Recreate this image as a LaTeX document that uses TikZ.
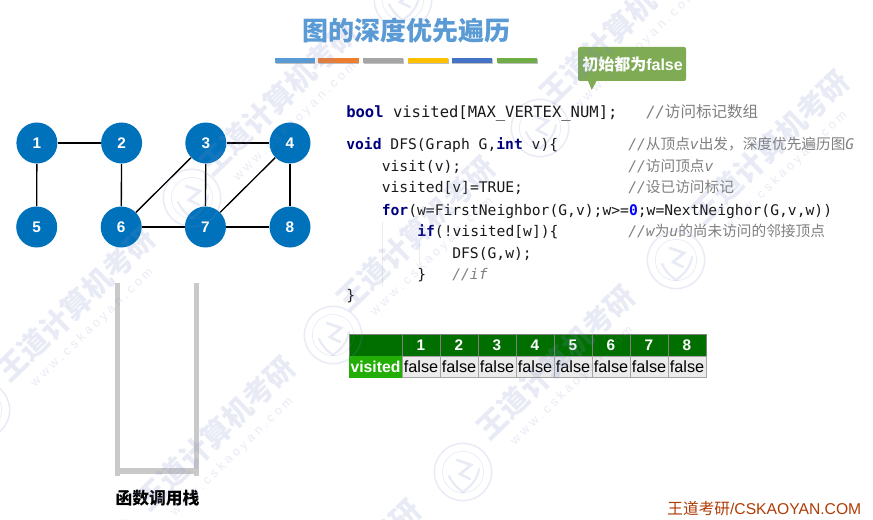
\documentclass[tikz,border=0pt]{standalone}
\usepackage{fontspec}
\setmainfont{Liberation Sans}
\setmonofont{DejaVu Sans Mono}
\newfontfamily\cjk{Noto Sans CJK SC}
\definecolor{vblue}{HTML}{0072BC}
\definecolor{hdgreen}{HTML}{006F00}
\definecolor{vgreen}{HTML}{22AE05}
\definecolor{bubgreen}{HTML}{7FAB55}
\definecolor{kwc}{HTML}{00007F}
\definecolor{cmt}{HTML}{808080}
\definecolor{wm}{HTML}{7C8DC4}
\definecolor{ttl}{HTML}{5B9BD5}
\definecolor{bar1}{HTML}{5B9BD5}
\definecolor{bar2}{HTML}{ED7D31}
\definecolor{bar3}{HTML}{A5A5A5}
\definecolor{bar4}{HTML}{FFC000}
\definecolor{bar5}{HTML}{4472C4}
\definecolor{bar6}{HTML}{70AD47}
\definecolor{foot}{HTML}{B03C06}
\newcommand{\fs}[1]{\fontsize{#1}{#1}\selectfont}
\newcommand{\kwd}[1]{{\bfseries\color{kwc}#1}}
\newcommand{\cjc}[1]{{\cjk #1}}
\tikzset{
  vertex/.style={circle,fill=vblue,minimum size=30.75pt,inner sep=0pt,text=white,font=\bfseries\fs{11.5}},
  edgeline/.style={draw=black,line width=1pt},
  code/.style={anchor=base west,inner sep=0pt,font=\ttfamily\fs{11},text=black!90},
  codeb/.style={code,font=\ttfamily\fs{11.65}},
  comment/.style={anchor=base west,inner sep=0pt,font=\ttfamily\itshape\fs{11},text=cmt},
  guide/.style={draw=black!8,line width=.5pt},
  hd/.style={minimum width=28.5pt,minimum height=16.5pt,inner sep=0pt,fill=hdgreen,draw=black!50,line width=.6pt,text=white,font=\bfseries\fs{11.5}},
  cell/.style={minimum width=28.5pt,minimum height=15.75pt,inner sep=0pt,fill=black!8,draw=black!35,line width=.6pt,text=black,font=\fs{12.2}},
  wmtext/.style={rotate=44,text=wm,text opacity=.17,inner sep=0pt,font=\cjk\bfseries\fs{22}},
  wmurl/.style={rotate=44,text=wm,text opacity=.17,inner sep=0pt,font=\fs{9.5}},
  wmseal/.style={draw=wm,draw opacity=.17,fill=none}
}
\newcommand{\sealmark}[2]{%
  \draw[wmseal,line width=1.1pt] (#1,#2) circle[radius=21.5pt];
  \draw[wmseal,line width=.5pt] (#1,#2) circle[radius=15.5pt];
  \draw[wmseal,line width=1.6pt,line cap=round] (#1-14,#2+4) .. controls (#1-8,#2+16) and (#1-2,#2+18) .. (#1,#2+20) .. controls (#1+8,#2+14) and (#1+14,#2+8) .. (#1+16,#2-3);
  \draw[wmseal,line width=2pt,line cap=round] (#1-6,#2-12) -- (#1+8,#2-7) -- (#1-3,#2+2) -- (#1+7,#2+7);
}
\newcommand{\wmark}[2]{%
  \node[wmtext] at (#1,#2) {王道计算机考研};
  \node[wmurl] at (#1+16,#2+24) {w\ w\ w\ .\ c\ s\ k\ a\ o\ y\ a\ n\ .\ c\ o\ m};
}
\begin{document}
\begin{tikzpicture}[x=0.75pt,y=-0.75pt]
\useasboundingbox (0,0) rectangle (873,520);
\fill[white] (0,0) rectangle (873,520);

% title and colour bars
\node[text=ttl,font=\cjk\bfseries\fs{19.5},inner sep=0pt] (title) at (406.5,31) {图的深度优先遍历};
\foreach \a/\b/\c in {275/314.5/bar1,318/358.5/bar2,363/403/bar3,407.5/448/bar4,451.5/492/bar5,497/537/bar6}{
  \fill[black!25] (\a+.5,59.5) rectangle (\b+.5,64.5);
  \fill[\c] (\a,58) rectangle (\b,63);
}

% graph
\node[vertex] (n1) at (36.9,143) {1};
\node[vertex] (n2) at (121.6,143) {2};
\node[vertex] (n3) at (205.8,143) {3};
\node[vertex] (n4) at (290,143) {4};
\node[vertex] (n5) at (36.7,227) {5};
\node[vertex] (n6) at (121.2,227) {6};
\node[vertex] (n7) at (205.4,227) {7};
\node[vertex] (n8) at (290,227) {8};
\draw[edgeline] (n1) -- (n2);
\draw[edgeline] (n1) -- (n5);
\draw[edgeline] (n2) -- (n6);
\draw[edgeline] (n3) -- (n4);
\draw[edgeline] (n3) -- (n6);
\draw[edgeline] (n3) -- (n7);
\draw[edgeline] (n4) -- (n7);
\draw[edgeline] (n4) -- (n8);
\draw[edgeline] (n6) -- (n7);
\draw[edgeline] (n7) -- (n8);

% stack
\fill[black!21] (115,283) rectangle (120.3,476);
\fill[black!21] (194,283) rectangle (199.3,476);
\fill[black!21] (120.3,467.5) rectangle (194,473.5);
\node[font=\cjk\bfseries\fs{12.6},text=black,inner sep=0pt] (stacklabel) at (157.5,498) {函数调用栈};

% bubble
\fill[bubgreen,rounded corners=1.5pt] (578,47) rectangle (686,81);
\fill[bubgreen] (587.7,80) -- (597,80) -- (591.7,90) -- cycle;
\node[font=\bfseries\fs{12},text=white,inner sep=0pt] (bubble) at (632.5,64.5) {\cjc{初始都为}false};

% code
\draw[guide] (382,222) -- (382,286);
\draw[guide] (419,243) -- (419,265);
\node[codeb] (l1) at (346,118) {\kwd{bool} visited[MAX\_VERTEX\_NUM];};
\node[comment,font=\ttfamily\itshape\fs{11.65}] (c1) at (646,118) {//\cjc{\upshape 访问标记数组}};
\node[code] (l2) at (346,150) {\kwd{void} DFS(Graph G,\kwd{int} v)\{};
\node[comment] (c2) at (628,150) {//\cjc{\upshape 从顶点}v\cjc{\upshape 出发，深度优先遍历图}G};
\node[code] (l3) at (381.5,172) {visit(v);};
\node[comment] (c3) at (628,172) {//\cjc{\upshape 访问顶点}v};
\node[code] (l4) at (381.5,193) {visited[v]=TRUE;};
\node[comment] (c4) at (628,193) {//\cjc{\upshape 设已访问标记}};
\node[code] (l5) at (381.5,215) {\kwd{for}(w=FirstNeighbor(G,v);w>=\textcolor{blue}{\bfseries 0};w=NextNeighor(G,v,w))};
\node[code] (l6) at (417,236) {\kwd{if}(!visited[w])\{};
\node[comment] (c6) at (628,236) {//w\cjc{\upshape 为}u\cjc{\upshape 的尚未访问的邻接顶点}};
\node[code] (l7) at (452,258) {DFS(G,w);};
\node[code] (l8) at (417,279) {\}};
\node[comment] (c8) at (452,279) {//if};
\node[code] (l9) at (346,300) {\}};

% table
\node[hd,minimum width=39.75pt] (h0) at (375.5,345) {};
\node[cell,fill=vgreen,draw=vgreen,minimum width=39.75pt,text=white,font=\bfseries\fs{11.8}] (v0) at (375.5,366.5) {visited};
\foreach \i in {1,...,8}{
  \node[hd] (h\i) at ({421+38*(\i-1)},345) {\i};
  \node[cell] (v\i) at ({421+38*(\i-1)},366.5) {false};
}

% footer
\node[font=\fs{11.75},text=foot,anchor=east,inner sep=0pt] (footer) at (861.5,509) {\cjc{王道考研}/CSKAOYAN.COM};

% watermark
\wmark{76}{304}
\wmark{216}{433}
\wmark{279}{98}
\wmark{416}{233}
\wmark{556}{362}
\wmark{619}{27}
\wmark{770}{147}
\wmark{342}{576}
\sealmark{333}{335}
\sealmark{463}{472}
\sealmark{192}{198}
\sealmark{540}{128}
\sealmark{676}{260}
\sealmark{-19}{410}
\sealmark{125}{549}
\sealmark{403}{0}
\end{tikzpicture}
\end{document}
